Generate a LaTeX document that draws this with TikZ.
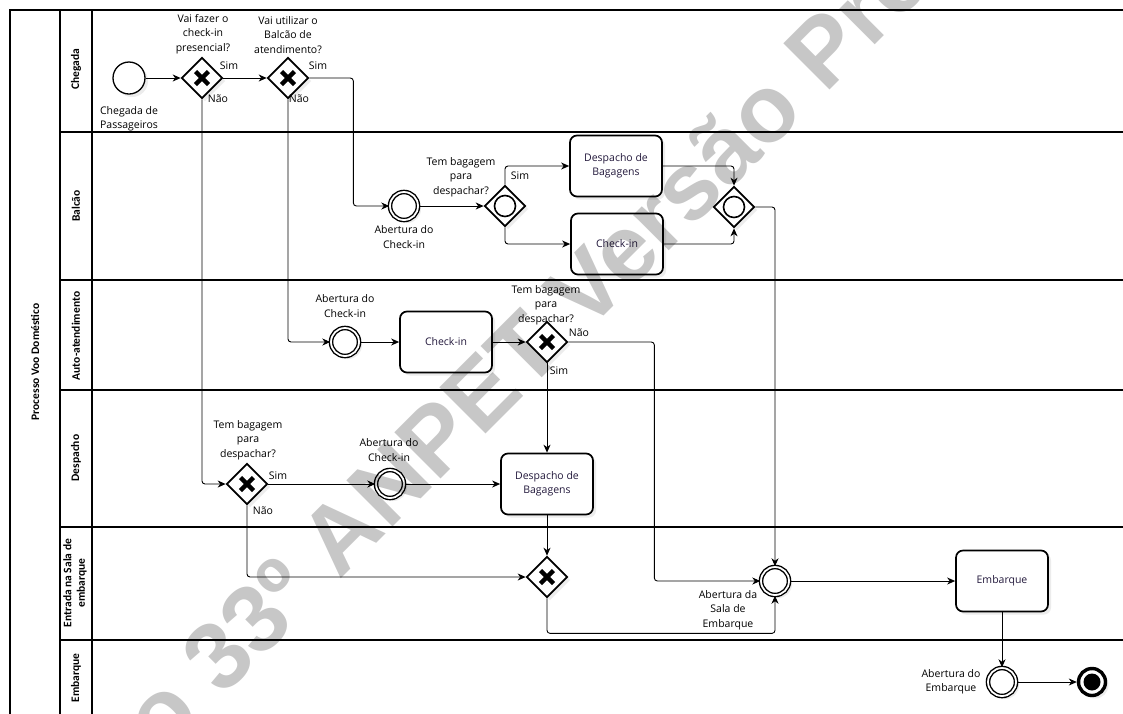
\documentclass[tikz,border=0pt]{standalone}
\usepackage{fontspec}
\setmainfont{Open Sans}
\newfontfamily\lanefont{Carlito}
\newfontfamily\wmfont{Liberation Sans}
\usetikzlibrary{arrows.meta,shapes.geometric,shadows}
\definecolor{tasktext}{RGB}{35,25,60}
\begin{document}
\begin{tikzpicture}[x=1pt,y=-1pt,
  every node/.style={font=\fontsize{10.5}{14.5}\selectfont},
  lbl/.style={align=center, inner sep=0pt},
  shd/.style={drop shadow={shadow xshift=3pt,shadow yshift=-3pt,opacity=0.15}},
  task/.style={draw, line width=1.7pt, rounded corners=7pt, fill=white, shd,
    minimum width=92pt, minimum height=61pt, align=center, inner sep=2pt, text=tasktext},
  gwbase/.style={shape=diamond, aspect=1, draw, line width=1.7pt, fill=white, shd,
    minimum size=41pt, inner sep=0pt},
  gwx/.style={gwbase, path picture={
    \draw[line width=4.4pt] ([xshift=-6.5pt,yshift=-6.5pt]path picture bounding box.center) -- ([xshift=6.5pt,yshift=6.5pt]path picture bounding box.center);
    \draw[line width=4.4pt] ([xshift=-6.5pt,yshift=6.5pt]path picture bounding box.center) -- ([xshift=6.5pt,yshift=-6.5pt]path picture bounding box.center);}},
  gwo/.style={gwbase, path picture={
    \draw[line width=1.6pt] (path picture bounding box.center) circle[radius=10.5pt];}},
  startev/.style={circle, draw, line width=1.3pt, minimum size=32pt, inner sep=0pt, fill=white, shd},
  interev/.style={circle, draw, double=white, double distance=1.8pt, line width=1.4pt,
    minimum size=28pt, inner sep=0pt, fill=white, shd},
  endev/.style={circle, draw, line width=3.4pt, minimum size=27pt, inner sep=0pt, fill=white, shd,
    path picture={\fill[black] (path picture bounding box.center) circle[radius=8.5pt];}},
  flow/.style={line width=0.9pt, rounded corners=3pt, -{Stealth[length=8pt,width=7pt,inset=2.5pt]}},
  laneline/.style={line width=1.2pt},
  lanelbl/.style={rotate=90, font=\lanefont\bfseries\fontsize{11.5}{13.5}\selectfont, align=center, inner sep=0pt},
]
\useasboundingbox (0,0) rectangle (1123,713);
\clip (0,0) rectangle (1123,713);
\fill[white] (0,0) rectangle (1123,713);

% pool and lanes
\draw[laneline] (10,760) -- (10,10) -- (1150,10);
\draw[laneline] (60,10) -- (60,760);
\draw[laneline] (92,10) -- (92,760);
\foreach \yy in {132,280,390,527,640} \draw[laneline] (60,\yy) -- (1150,\yy);

\node[lanelbl] (pool) at (35,362) {Processo Voo Doméstico};
\node[lanelbl] (lnA) at (76,69) {Chegada};
\node[lanelbl] (lnB) at (76,206) {Balcão};
\node[lanelbl] (lnC) at (76,336) {Auto-atendimento};
\node[lanelbl] (lnD) at (76,458) {Despacho};
\node[lanelbl] (lnE) at (75,583) {Entrada na Sala de\\embarque};
\node[lanelbl] (lnF) at (76,678) {Embarque};

% elements
\node[startev] (st) at (129,78) {};
\node[gwx] (g1) at (202,78) {};
\node[gwx] (g2) at (288,78) {};
\node[interev] (eb) at (404,206) {};
\node[gwo] (g3) at (505,206) {};
\node[task] (tdb) at (616,166) {Despacho de\\Bagagens};
\node[task] (tcb) at (617,244) {Check-in};
\node[gwo] (gj) at (734,207) {};
\node[interev] (ea) at (345,342) {};
\node[task] (tca) at (446,342) {Check-in};
\node[gwx] (g4) at (547,342) {};
\node[gwx] (g5) at (247,484) {};
\node[interev] (ed) at (390,484) {};
\node[task] (tdd) at (547,484) {Despacho de\\Bagagens};
\node[gwx] (g6) at (547,577) {};
\node[interev] (es) at (775,581) {};
\node[task] (temb) at (1002,581) {Embarque};
\node[interev] (ee) at (1002,682) {};
\node[endev] (en) at (1092,682) {};

% labels
\node[lbl] (l0) at (129,119) {Chegada de\\Passageiros};
\node[lbl] (l1) at (203,34) {Vai fazer o\\check-in\\presencial?};
\node[lbl] (l2) at (288,35) {Vai utilizar o\\Balcão de\\atendimento?};
\node[lbl] (s1) at (229,66) {Sim};
\node[lbl] (n1) at (218,99) {Não};
\node[lbl] (s2) at (318,66) {Sim};
\node[lbl] (n2) at (299,99) {Não};
\node[lbl] (lb) at (404,237) {Abertura do\\Check-in};
\node[lbl] (l3) at (461,177) {Tem bagagem\\para\\despachar?};
\node[lbl] (s3) at (520,176) {Sim};
\node[lbl] (la) at (345,306) {Abertura do\\Check-in};
\node[lbl] (l4) at (546,305) {Tem bagagem\\para\\despachar?};
\node[lbl] (n4) at (579,333) {Não};
\node[lbl] (s4) at (559,371) {Sim};
\node[lbl] (l5) at (248,440) {Tem bagagem\\para\\despachar?};
\node[lbl] (s5) at (278,476) {Sim};
\node[lbl] (n5) at (263,511) {Não};
\node[lbl] (ld) at (389,450) {Abertura do\\Check-in};
\node[lbl] (ls) at (728,610) {Abertura da\\Sala de\\Embarque};
\node[lbl] (le) at (951,682) {Abertura do\\Embarque};

% flows
\draw[flow] (st) -- (g1);
\draw[flow] (g1.east) -- (g2.west);
\draw[flow] (g2.east) -- ++(44,0) |- (eb.west);
\draw[flow] (g1.south) |- (g5.west);
\draw[flow] (g2.south) |- (ea.west);
\draw[flow] (eb) -- (g3.west);
\draw[flow] (g3.north) |- (tdb.west);
\draw[flow] (g3.south) |- (tcb.west);
\draw[flow] (tdb.east) -| (gj.north);
\draw[flow] (tcb.east) -| (gj.south);
\draw[flow] (gj.east) -| (es.north);
\draw[flow] (ea) -- (tca);
\draw[flow] (tca) -- (g4.west);
\draw[flow] (g4.east) -- ++(86,0) |- (es.west);
\draw[flow] (g4.south) -- (tdd.north);
\draw[flow] (g5.east) -- (ed.west);
\draw[flow] (ed) -- (tdd.west);
\draw[flow] (g5.south) |- (g6.west);
\draw[flow] (tdd.south) -- (g6.north);
\draw[flow] (g6.south) -- ++(0,35) -| (es.south);
\draw[flow] (es) -- (temb.west);
\draw[flow] (temb.south) -- (ee.north);
\draw[flow] (ee) -- (en);

% watermark
\node[rotate=45, anchor=base west, inner sep=0pt, text=black, text opacity=0.22,
  font=\wmfont\bfseries\fontsize{95}{95}\selectfont] (wm) at (222,698) {\llap{ao }33º ANPET Versão Preliminar};
\end{tikzpicture}
\end{document}
